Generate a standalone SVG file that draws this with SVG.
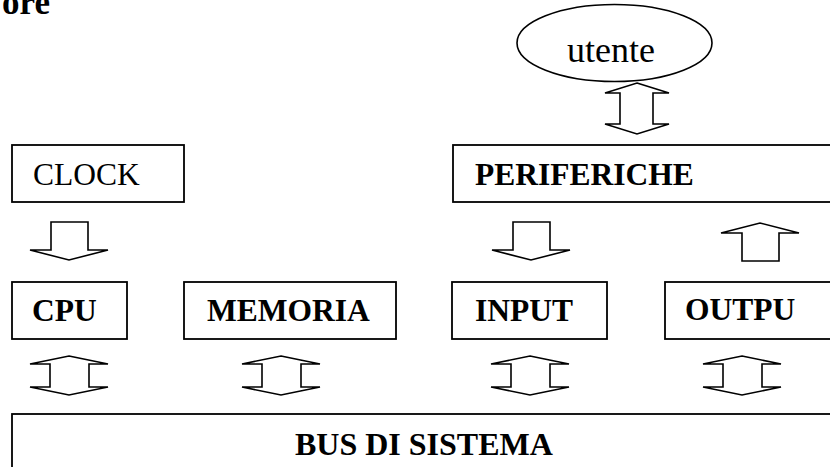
<svg xmlns="http://www.w3.org/2000/svg" xmlns:xlink="http://www.w3.org/1999/xlink" width="830" height="467" viewBox="0 0 830 467">
  <style>
    .box{fill:#fff;stroke:#000;stroke-width:1.8}
    .arr{fill:#fff;stroke:#000;stroke-width:1.6;stroke-linejoin:miter}
    text{font-family:"Liberation Serif","Times New Roman",serif;font-size:31.5px;fill:#000}
    .b{font-weight:bold}
  </style>
  <defs>
    <!-- two-headed block arrow, 39 px tall, centred on x=0 -->
    <path id="dbl" d="M0,0 L39,8 H20 V31 H39 L0,39 L-39,31 H-19 V8 H-39 Z"/>
    <!-- single block arrow pointing down, 38 px tall -->
    <path id="down" d="M-18,0 H19 V28 H39 L0,38 L-39,28 H-18 Z"/>
  </defs>

  <rect width="830" height="467" fill="#fff"/>

  <!-- heading (cut off at the left edge) -->
  <text class="b" x="50" y="14" text-anchor="end" style="font-size:35px">ore</text>

  <g id="utente">
    <ellipse cx="614.5" cy="43" rx="97.5" ry="38.5" fill="#fff" stroke="#000" stroke-width="1.6"/>
    <text x="567" y="62" style="font-size:36px">utente</text>
  </g>

  <g id="clock">
    <rect class="box" x="12" y="145" width="172" height="57"/>
    <text x="33" y="185">CLOCK</text>
  </g>

  <g id="periferiche">
    <rect class="box" x="453" y="145" width="400" height="57"/>
    <text class="b" x="475" y="185">PERIFERICHE</text>
  </g>

  <g id="cpu">
    <rect class="box" x="12" y="282" width="115" height="57"/>
    <text class="b" x="32" y="321">CPU</text>
  </g>

  <g id="memoria">
    <rect class="box" x="184" y="282" width="212" height="57"/>
    <text class="b" x="207" y="321">MEMORIA</text>
  </g>

  <g id="input">
    <rect class="box" x="452" y="282" width="155" height="57"/>
    <text class="b" x="475" y="321">INPUT</text>
  </g>

  <g id="output">
    <rect class="box" x="665" y="282" width="190" height="57"/>
    <text class="b" x="685" y="320">OUTPU</text>
  </g>

  <g id="bus">
    <rect class="box" x="12" y="414" width="840" height="80"/>
    <text class="b" x="295" y="455" style="font-size:32px">BUS DI SISTEMA</text>
  </g>

  <g id="connectors">
    <!-- utente <-> periferiche -->
    <path class="arr" d="M637,83 L669,93 H653 V124 H669 L637,134 L605,124 H620 V93 H605 Z"/>
    <!-- clock -> cpu -->
    <use class="arr" xlink:href="#down" transform="translate(69,222)"/>
    <!-- periferiche -> input -->
    <use class="arr" xlink:href="#down" transform="translate(531,222)"/>
    <!-- output -> periferiche -->
    <use class="arr" xlink:href="#down" transform="translate(760,261) scale(1,-1)"/>
    <!-- units <-> system bus -->
    <use class="arr" xlink:href="#dbl" transform="translate(69,356)"/>
    <use class="arr" xlink:href="#dbl" transform="translate(281,356)"/>
    <use class="arr" xlink:href="#dbl" transform="translate(530,356)"/>
    <use class="arr" xlink:href="#dbl" transform="translate(742,356)"/>
  </g>
</svg>
